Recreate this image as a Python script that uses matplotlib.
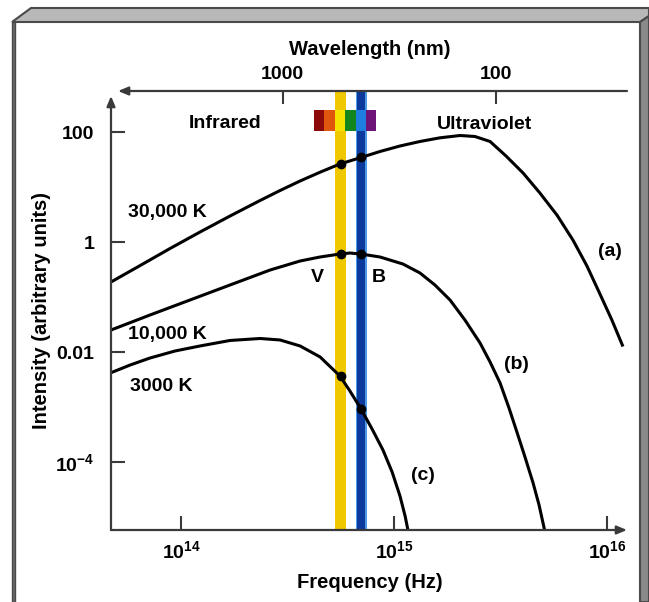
import numpy as np
import matplotlib.pyplot as plt
from matplotlib.patches import Polygon
from matplotlib.ticker import NullLocator

plt.rcParams['font.family'] = ['Liberation Sans', 'DejaVu Sans']
plt.rcParams['font.weight'] = 'bold'
plt.rcParams['axes.labelweight'] = 'bold'
plt.rcParams['mathtext.fontset'] = 'custom'
plt.rcParams['mathtext.rm'] = 'Liberation Sans:bold'
plt.rcParams['mathtext.bf'] = 'Liberation Sans:bold'
plt.rcParams['mathtext.default'] = 'bf'

#%%
# Curves: log10 frequency (Hz) and log10 intensity
a_logf = [13.671, 13.808, 13.948, 14.089, 14.230, 14.371, 14.465, 14.559, 14.653,
          14.746, 14.845, 14.934, 15.028, 15.122, 15.216, 15.310, 15.380, 15.451,
          15.526, 15.606, 15.685, 15.765, 15.840, 15.906, 15.967, 16.023, 16.075]
a_logi = [-0.722, -0.422, -0.113, 0.187, 0.478, 0.760, 0.942, 1.115, 1.275,
          1.424, 1.542, 1.651, 1.751, 1.833, 1.900, 1.942, 1.924, 1.833,
          1.569, 1.260, 0.896, 0.496, 0.042, -0.431, -0.940, -1.413, -1.895]

b_logf = [13.671, 13.854, 14.042, 14.230, 14.418, 14.559, 14.653, 14.746, 14.793,
          14.845, 14.934, 15.042, 15.122, 15.192, 15.263, 15.333, 15.404, 15.451,
          15.498, 15.540, 15.577, 15.615, 15.653, 15.681, 15.709]
b_logi = [-1.595, -1.322, -1.049, -0.776, -0.504, -0.340, -0.267, -0.213, -0.195,
          -0.213, -0.267, -0.395, -0.558, -0.776, -1.049, -1.413, -1.831, -2.176,
          -2.558, -3.013, -3.449, -3.904, -4.376, -4.776, -5.267]

c_logf = [13.671, 13.761, 13.854, 13.972, 14.089, 14.230, 14.371, 14.465, 14.559,
          14.653, 14.746, 14.793, 14.845, 14.897, 14.948, 14.991, 15.028, 15.052, 15.070]
c_logi = [-2.371, -2.231, -2.104, -1.976, -1.885, -1.785, -1.749, -1.776, -1.885,
          -2.085, -2.431, -2.704, -3.031, -3.395, -3.776, -4.176, -4.613, -4.976, -5.322]

# V and B filter bands (log10 Hz) and the dots where curves cross them
band_logf = [14.749, 14.847]
v_logi = [1.424, -0.213, -2.431]
b_dot_logi = [1.542, -0.213, -3.031]

# rainbow strip: cell edges in log10 Hz
rainbow_edges = [14.624, 14.673, 14.723, 14.772, 14.822, 14.869, 14.915]
rainbow_colors = ['#8c0a0a', '#e0560c', '#f5e400', '#14861e', '#1f7fe0', '#6e1478']

wl_ticks = [1000, 100]
wl_ticklabels = ['1000', '100']
y_ticks = [100, 1, 0.01, 1e-4]
y_ticklabels = ['100', '1', '0.01', r'$10^{-4}$']
x_ticks = [1e14, 1e15, 1e16]
x_ticklabels = [r'$10^{14}$', r'$10^{15}$', r'$10^{16}$']

W, H = 649, 602
XMIN, XMAX = 13.671, 16.1
YMIN, YMAX = -5.231, 2.751

def fx(px, py):
    return (px / W, 1 - py / H)

fig = plt.figure(figsize=(W / 100, H / 100), dpi=100)

#%%
# grey 3d frame around the panel
frame_dark = '#4a4a4a'
fig.add_artist(Polygon([fx(12, 22), fx(31, 8), fx(649, 8), fx(649, 16), fx(640, 22)],
                       closed=True, transform=fig.transFigure, facecolor='#b8b8b8',
                       edgecolor=frame_dark, lw=1.5))
fig.add_artist(Polygon([fx(640, 22), fx(649, 16), fx(649, 602), fx(640, 602)],
                       closed=True, transform=fig.transFigure, facecolor='#8a8a8a',
                       edgecolor=frame_dark, lw=1.5))
fig.add_artist(Polygon([fx(12, 22), fx(15, 22), fx(15, 602), fx(12, 602)],
                       closed=True, transform=fig.transFigure, facecolor='#6a6a6a',
                       edgecolor=frame_dark, lw=1))

#%%
ax = fig.add_axes([111 / W, (H - 530) / H, (627 - 111) / W * (XMAX - XMIN) / (16.094 - XMIN),
                   (530 - 91) / H])
ax.set_xscale('log')
ax.set_yscale('log')
ax.set_xlim(10 ** XMIN, 10 ** XMAX)
ax.set_ylim(10 ** YMIN, 10 ** YMAX)
ax.patch.set_alpha(0)
for s in ax.spines.values():
    s.set_visible(False)

axis_col = '#3a3a3a'

# filter bands
ax.axvspan(10 ** (band_logf[0] - 0.026), 10 ** (band_logf[0] + 0.026), color='#f0c800', lw=0, zorder=1)
ax.axvspan(10 ** (band_logf[1] - 0.026), 10 ** (band_logf[1] + 0.026), color='#4d9be6', lw=0, zorder=1)
ax.axvspan(10 ** (band_logf[1] - 0.019), 10 ** (band_logf[1] + 0.019), color='#0b3a9c', lw=0, zorder=1)

# rainbow strip
lefts = [10 ** e for e in rainbow_edges[:-1]]
widths = [10 ** rainbow_edges[i + 1] - 10 ** rainbow_edges[i] for i in range(len(rainbow_edges) - 1)]
ax.bar(lefts, 10 ** 2.405 - 10 ** 2.022, width=widths, bottom=10 ** 2.022, align='edge',
       color=rainbow_colors, lw=0, zorder=2)

# blackbody curves
for lf, li in [(a_logf, a_logi), (b_logf, b_logi), (c_logf, c_logi)]:
    ax.plot(10 ** np.array(lf), 10 ** np.array(li), color='black', lw=2.2,
            solid_capstyle='butt', solid_joinstyle='round', zorder=3)
ax.plot([10 ** band_logf[0]] * 3, 10 ** np.array(v_logi), 'o', color='black', ms=6, zorder=4)
ax.plot([10 ** band_logf[1]] * 3, 10 ** np.array(b_dot_logi), 'o', color='black', ms=6, zorder=4)

# axis lines with arrows
arrow = dict(arrowstyle='-|>,head_length=0.6,head_width=0.25', color=axis_col, lw=1.6,
             shrinkA=0, shrinkB=0)
ax.annotate('', xy=(10 ** 16.094, 10 ** YMIN), xytext=(10 ** XMIN, 10 ** YMIN),
            arrowprops=arrow, annotation_clip=False)
ax.annotate('', xy=(10 ** XMIN, 10 ** 2.66), xytext=(10 ** XMIN, 10 ** YMIN),
            arrowprops=arrow, annotation_clip=False)
ax.annotate('', xy=(10 ** 13.704, 10 ** YMAX), xytext=(10 ** 16.094, 10 ** YMAX),
            arrowprops=arrow, annotation_clip=False)

ax.set_xticks(x_ticks, x_ticklabels)
ax.set_yticks(y_ticks, y_ticklabels)
ax.xaxis.set_minor_locator(NullLocator())
ax.yaxis.set_minor_locator(NullLocator())
ax.tick_params(axis='both', direction='in', length=10, width=1.5, color=axis_col, labelsize=14)
ax.tick_params(axis='x', pad=7)
ax.tick_params(axis='y', pad=12)
ax.set_xlabel('Frequency (Hz)', fontsize=14.5, labelpad=8)
ax.set_ylabel('Intensity (arbitrary units)', fontsize=14.5, labelpad=3)

# wavelength axis on top
sec = ax.secondary_xaxis('top', functions=(lambda f: 3e17 / np.maximum(f, 1e-30),
                                           lambda w: 3e17 / np.maximum(w, 1e-30)))
sec.set_xticks(wl_ticks, wl_ticklabels)
sec.xaxis.set_minor_locator(NullLocator())
sec.spines['top'].set_visible(False)
sec.tick_params(direction='in', length=9, width=1.5, color=axis_col, labelsize=14, pad=6)
sec.set_xlabel('Wavelength (nm)', fontsize=14.5, labelpad=8)

# text labels
labels = [('Infrared', 14.207, 2.169), ('Ultraviolet', 15.423, 2.133),
          ('30,000 K', 13.934, 0.533), ('10,000 K', 13.934, -1.685), ('3000 K', 13.906, -2.613),
          ('V', 14.638, -0.631), ('B', 14.930, -0.631),
          ('(a)', 16.014, -0.176), ('(b)', 15.577, -2.213), ('(c)', 15.136, -4.231)]
for txt, lx, ly in labels:
    ax.text(10 ** lx, 10 ** ly, txt, fontsize=14, ha='center', va='center', zorder=5)

fig.savefig('out.png', dpi=100)
